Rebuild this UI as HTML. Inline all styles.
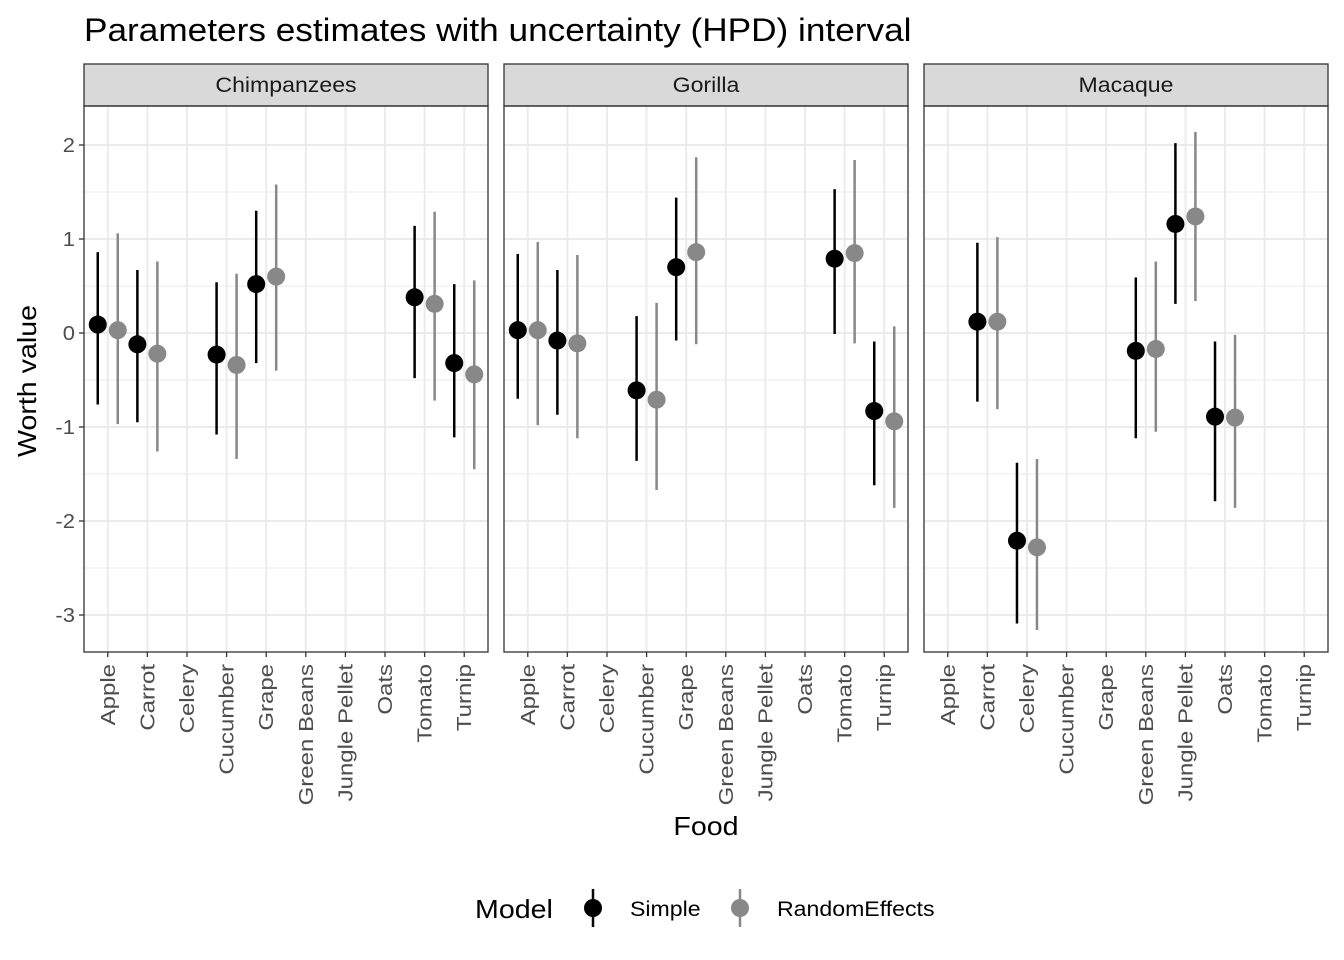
<!DOCTYPE html>
<html><head><meta charset="utf-8"><style>
html,body{margin:0;padding:0;background:#fff;}
svg{display:block;font-family:"Liberation Sans",Arial,sans-serif;}
</style></head><body>
<svg id="chart" width="1344" height="960">
<text class="s" x="84" y="41" font-size="32" fill="#000">Parameters estimates with uncertainty (HPD) interval</text>
<text class="s" transform="translate(36,381) rotate(-90)" text-anchor="middle" font-size="26" fill="#000">Worth value</text>
<text class="s" x="706" y="835" text-anchor="middle" font-size="26" fill="#000">Food</text>
<g>
<text class="s" x="475" y="918" font-size="26" fill="#000">Model</text>
<g>
<line x1="593" y1="889" x2="593" y2="927" stroke="#000" stroke-width="2.5"/>
<circle cx="593" cy="908" r="9" fill="#000"/>
<text class="s" x="630" y="916" font-size="21" fill="#000">Simple</text></g>
<g>
<line x1="740" y1="889" x2="740" y2="927" stroke="#888" stroke-width="2.5"/>
<circle cx="740" cy="908" r="9" fill="#888"/>
<text class="s" x="777" y="916" font-size="21" fill="#000">RandomEffects</text></g>
</g>
<g id="panels"></g>
</svg>
<script>
const foods=["Apple","Carrot","Celery","Cucumber","Grape","Green Beans","Jungle Pellet","Oats","Tomato","Turnip"];
const species=["Chimpanzees","Gorilla","Macaque"];
const yTicks=[2,1,0,-1,-2,-3];
// [species, food, estimate, lower, upper]
const simpleData=[
["Chimpanzees","Apple",0.09,-0.76,0.86],["Chimpanzees","Carrot",-0.12,-0.95,0.67],["Chimpanzees","Cucumber",-0.23,-1.08,0.54],["Chimpanzees","Grape",0.52,-0.32,1.30],["Chimpanzees","Tomato",0.38,-0.48,1.14],["Chimpanzees","Turnip",-0.32,-1.11,0.52],
["Gorilla","Apple",0.03,-0.70,0.84],["Gorilla","Carrot",-0.08,-0.87,0.67],["Gorilla","Cucumber",-0.61,-1.36,0.18],["Gorilla","Grape",0.70,-0.08,1.44],["Gorilla","Tomato",0.79,-0.01,1.53],["Gorilla","Turnip",-0.83,-1.62,-0.09],
["Macaque","Carrot",0.12,-0.73,0.96],["Macaque","Celery",-2.21,-3.09,-1.38],["Macaque","Green Beans",-0.19,-1.12,0.59],["Macaque","Jungle Pellet",1.16,0.31,2.02],["Macaque","Oats",-0.89,-1.79,-0.09]];
const randomData=[
["Chimpanzees","Apple",0.03,-0.97,1.06],["Chimpanzees","Carrot",-0.22,-1.26,0.76],["Chimpanzees","Cucumber",-0.34,-1.34,0.63],["Chimpanzees","Grape",0.60,-0.40,1.58],["Chimpanzees","Tomato",0.31,-0.72,1.29],["Chimpanzees","Turnip",-0.44,-1.45,0.56],
["Gorilla","Apple",0.03,-0.98,0.97],["Gorilla","Carrot",-0.11,-1.12,0.83],["Gorilla","Cucumber",-0.71,-1.67,0.32],["Gorilla","Grape",0.86,-0.12,1.87],["Gorilla","Tomato",0.85,-0.11,1.84],["Gorilla","Turnip",-0.94,-1.86,0.07],
["Macaque","Carrot",0.12,-0.81,1.02],["Macaque","Celery",-2.28,-3.16,-1.34],["Macaque","Green Beans",-0.17,-1.05,0.76],["Macaque","Jungle Pellet",1.24,0.34,2.14],["Macaque","Oats",-0.90,-1.86,-0.02]];
const NS="http://www.w3.org/2000/svg";
const panelX=[84,504,924],PW=404,PT=106,PB=652;
const y=v=>333-94*v;
const step=PW/(foods.length-1+1.2);
const x=(p,f)=>panelX[p]+step*(0.6+foods.indexOf(f));
const root=document.getElementById("panels");
function mk(tag,attrs,parent){const e=document.createElementNS(NS,tag);for(const k in attrs)e.setAttribute(k,attrs[k]);(parent||root).appendChild(e);return e;}
species.forEach((s,p)=>{
 const g=mk("g",{});
 
 
 const L=panelX[p];
 mk("rect",{x:L,y:PT,width:PW,height:PB-PT,fill:"#fff"},g);
 for(let v=-3.5;v<=2.5;v+=1){if(y(v)>PT&&y(v)<PB)mk("line",{x1:L,x2:L+PW,y1:y(v),y2:y(v),stroke:"#ebebeb","stroke-width":1},g);}
 yTicks.forEach(v=>mk("line",{x1:L,x2:L+PW,y1:y(v),y2:y(v),stroke:"#ebebeb","stroke-width":2},g));
 foods.forEach(f=>mk("line",{x1:x(p,f),x2:x(p,f),y1:PT,y2:PB,stroke:"#ebebeb","stroke-width":2},g));
 const strip=mk("rect",{x:L,y:64,width:PW,height:42,fill:"#d9d9d9",stroke:"#333","stroke-width":1.3},g);
 
 
 const st=mk("text",{class:"s",x:L+PW/2,y:92,"text-anchor":"middle","font-size":21,fill:"#1a1a1a"},g);st.textContent=s;
 
 
 [[randomData,"#888",10],[simpleData,"#000",-10]].forEach(([data,col,dx])=>{
  data.filter(d=>d[0]===s).forEach(d=>{
   const cx=x(p,d[1])+dx;
   const ln=mk("line",{x1:cx,x2:cx,y1:y(d[3]),y2:y(d[4]),stroke:col,"stroke-width":2.5},g);
   
   
   const c=mk("circle",{cx:cx,cy:y(d[2]),r:9,fill:col},g);
   
   
  });
 });
 mk("rect",{x:L,y:PT,width:PW,height:PB-PT,fill:"none",stroke:"#333","stroke-width":1.3},g);
 foods.forEach(f=>{
  const xx=x(p,f);
  mk("line",{x1:xx,x2:xx,y1:PB,y2:PB+5,stroke:"#333","stroke-width":1.3},g);
  const t=mk("text",{class:"s xt",transform:`translate(${xx+7},${PB+12}) rotate(-90)`,"text-anchor":"end","font-size":20,fill:"#4d4d4d"},g);t.textContent=f;
  
  
 });
 if(p===0){yTicks.forEach(v=>{
  mk("line",{x1:L-5,x2:L,y1:y(v),y2:y(v),stroke:"#333","stroke-width":1.3},g);
  const t=mk("text",{class:"s",x:L-9,y:y(v)+7,"text-anchor":"end","font-size":20,fill:"#4d4d4d"},g);t.textContent=v;
  
  
 });}
});
document.querySelectorAll("text.s").forEach(t=>{
 const w=t.getComputedTextLength();
 const k=t.classList.contains("xt")?1.2:1.1;
 if(w>0){t.setAttribute("textLength",(w*k).toFixed(1));t.setAttribute("lengthAdjust","spacingAndGlyphs");}
});
</script>
</body></html>
